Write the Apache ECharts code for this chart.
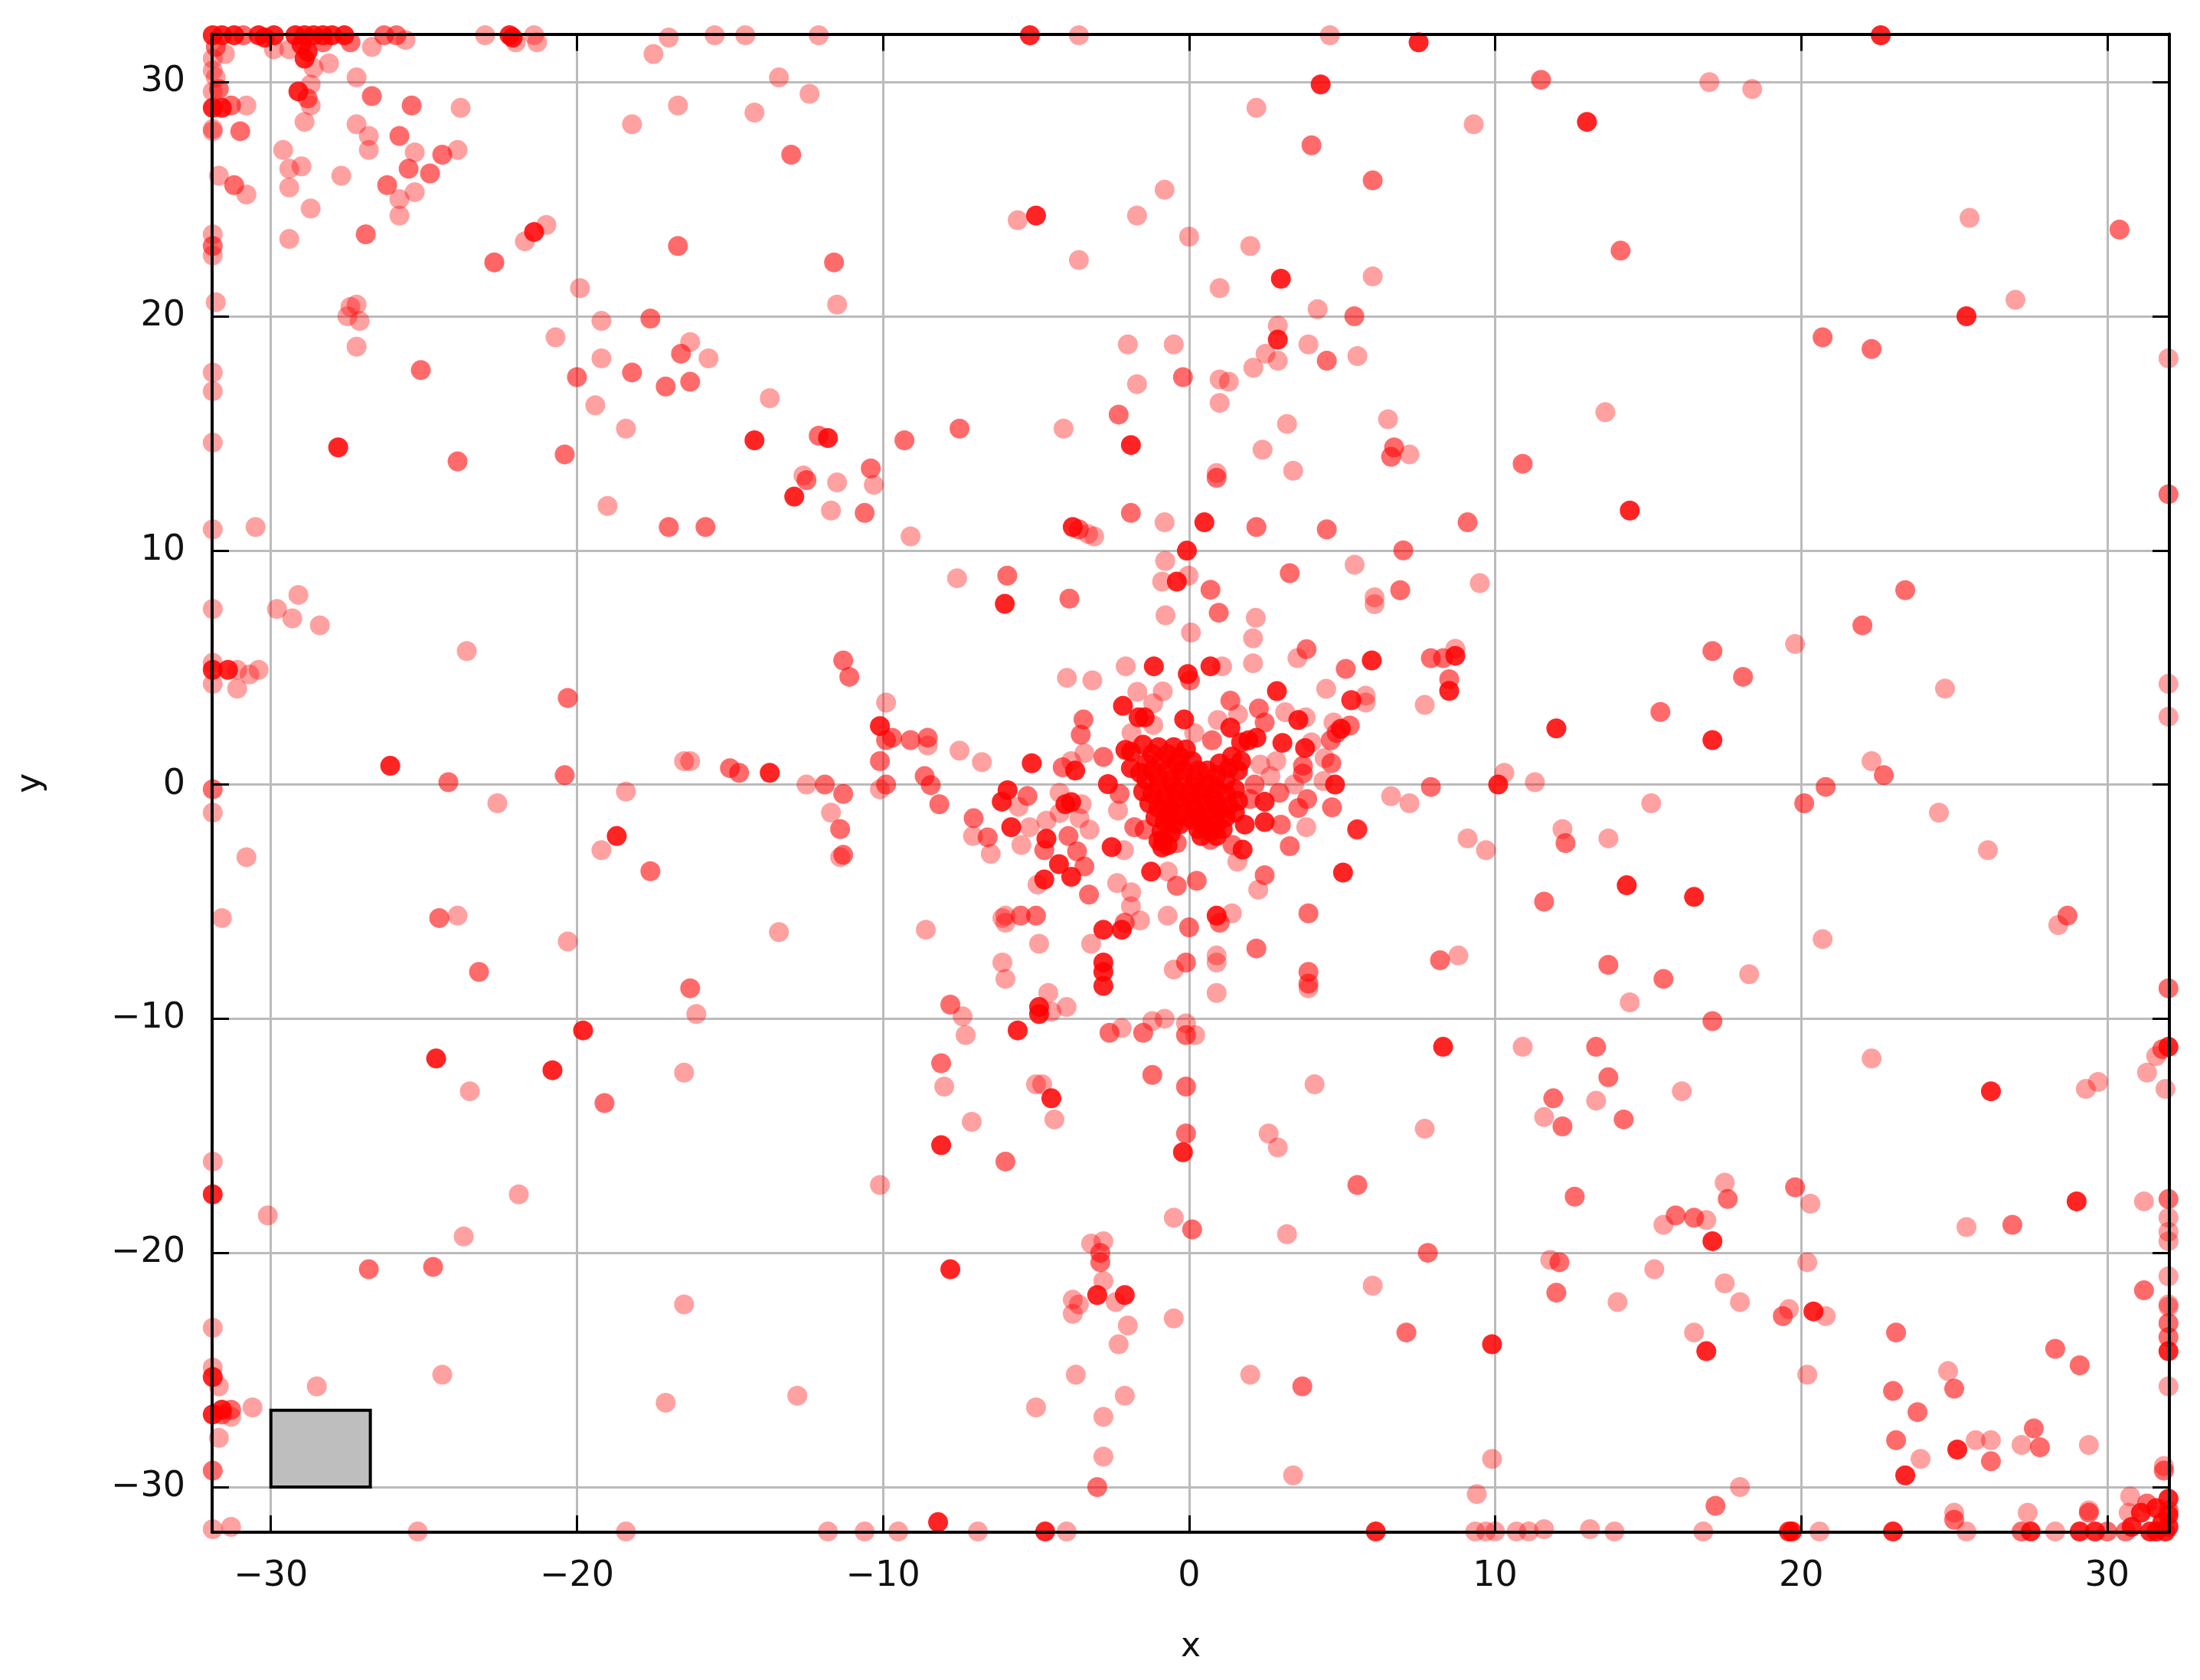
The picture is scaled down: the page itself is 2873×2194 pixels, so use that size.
<!DOCTYPE html>
<html>
<head>
<meta charset="utf-8">
<title>scatter</title>
<style>
  html, body { margin: 0; padding: 0; background: #fff; }
  #chart { width: 2873px; height: 2194px; }
</style>
<script src="https://cdn.jsdelivr.net/npm/echarts@6/dist/echarts.min.js"></script>
</head>
<body>
<div id="chart"></div>
<script>
var xTicks = [-30, -20, -10, 0, 10, 20, 30]
var yTicks = [-30, -20, -10, 0, 10, 20, 30]
var xRange = [-31.92, 32.03]
var yRange = [-31.93, 32.05]
var greyBox = [[-30, -30], [-26.75, -26.72]]

// single points, the palest red
var palePoints = [
  [-17.5,31.2],[-17,31.9],[-15.5,32],[-14.5,32],[-12.1,32],[-3.6,32],[4.6,32],[-16.7,29],[-14.2,28.7],[-18.2,28.2],[-13.4,30.2],[-12.4,29.5],
  [17,30],[18.4,29.7],[2.2,28.9],[9.3,28.2],[-0.8,25.4],[-5.6,24.1],[-1.7,24.3],[-3.6,22.4],[0,23.4],[25.5,24.2],[-22.7,22.3],[-19.9,21.2],[-11.5,20.5],
  [1,21.2],[2,23],[6,21.7],[4.2,20.3],[27,20.7],[32,18.2],[2.9,19.6],[2.9,18.1],[2.5,18.4],[3.9,18.8],[5.5,18.3],[2.1,17.8],[-2,18.8],[-0.5,18.8],[-1.7,17.1],[1,17.3],[1.3,17.2],
  [1,16.3],[3.2,15.4],[6.5,15.6],[13.6,15.9],[2.4,14.3],[7.2,14.1],[0.9,13.3],[3.4,13.4],[-21.4,32],[-23,32],
  [-30.8,29],[-31.9,27.9],[-31.9,31],[-31.5,31.2],[-31.8,30.2],[-31.9,29.6],[-31.7,26],[-30.8,25.2],[-31.9,23.5],[-31.9,22.6],[-29.4,23.3],[-29.6,27.1],[-29.4,26.3],[-29,26.4],[-29.4,25.5],[-27.7,26],[-28.7,24.6],
  [-28.9,28.3],[-27.2,28.2],[-26.8,27.7],[-26.8,27.1],[-25.3,27],[-23.9,27.1],[-25.3,25.3],[-25.8,25],[-25.8,24.3],[-23.8,28.9],[-27.2,30.2],[-28.1,30.8],[-28.6,30.6],[-28.7,29.9],[-28.7,29],
  [-29.9,31.4],[-29.4,31.4],[-26.7,31.5],[-25.6,31.8],[-22,31.7],[-21.3,31.7],[-21,23.9],[-21.7,23.2],[-22.7,22.3],[-27.2,20.5],[-31.8,20.6],
  [-31.9,17.6],[-31.9,16.8],[-31.9,14.6],[-31.9,10.9],[-31.9,7.5],[-27.4,20.4],[-27.5,20],[-27.1,19.8],[-27.2,18.7],[-20.7,19.1],[-19.2,19.8],[-16.3,18.9],[-19.2,18.2],[-15.7,18.2],[-19.4,16.2],[-18.4,15.2],[-13.7,16.5],[-4.1,15.2],
  [-12.6,13.2],[-11.5,12.9],[-10.3,12.8],[-11.7,11.7],[-9.1,10.6],[-19,11.9],[-30.5,11],[-3.3,10.7],[-3.1,10.6],[-0.8,11.2],
  [-7.58,8.81],[-0.78,9.55],[-0.02,8.92],[-0.88,8.67],[-0.77,7.23],[0.06,6.49],[2.18,7.12],[2.09,6.25],[5.41,9.39],[6.06,8],[6.06,7.7],[3.54,5.4],[2.09,5.18],[4.48,4.09],[5.77,3.8],[5.77,3.5],
  [9.5,8.6],[-29.1,8.1],[-29.8,7.5],[-29.3,7.1],[-28.4,6.8],[19.8,6],[-23.6,5.7],[8.7,5.8],
  [-3.99,4.56],[-3.16,4.45],[-2.07,5.05],[1.08,5.05],[-1.69,3.96],[-0.86,3.98],[-1.17,3.47],[3.14,3.09],[3.81,2.87],[0.94,2.76],[1.6,3],[4,1.8],[4.72,2.65],[4.43,1.13],[2.85,1],[2.66,0.36],[2.33,0.85],[4.39,0.15],[3.43,0],
  [3.83,-1.82],[1.58,-3.29],[2.26,-4.49],[-0.69,-3.72],[-1.89,-4.6],[-2.35,-4.21],[-4.95,-4.27],[-5.48,-2.58],[-6.48,-2.96],[-7.06,-2.2],[-5.21,-1.82],[-4.66,-1.54],[-4.23,-1.22],[-3.51,-0.84],[-3.58,-1.44],[-3.25,-1.93],[-5.57,-0.95],[-4.23,-0.35],
  [-8.54,1.67],[-7.5,1.45],[-6.77,0.96],[-3.85,1],[-3.42,1.34],[-2.32,-1.11],[-2.13,-2.8],[0.17,2.2],[-1.17,2.54],[-1.88,2.2],
  [-31.9,4.3],[-31.1,4.1],[-30.7,4.7],[-30.4,4.9],[-31.1,4.9],[-31.9,5.2],[-9.9,3.5],[24.7,4.1],[32,4.3],[32,2.9],[7.7,3.4],[-10.1,-0.2],[-16.5,1],[-16.3,1],[-12.5,0],[-11.7,-1.2],[-11.4,-3.1],[-18.4,-0.3],[-22.6,-0.8],[-19.2,-2.8],
  [-31.9,-1.2],[-30.8,-3.1],[-31.6,-5.7],[-13.4,-6.3],[-23.9,-5.6],[-20.3,-6.7],[-8.6,-6.2],
  [-6.1,-7.6],[-6,-8.3],[-7.4,-9.9],[-7.3,-10.7],[-4.6,-8.9],[-4.5,-9.7],[-4,-9.5],[-2.2,-10.4],[-1.2,-10.1],[-0.8,-10],[-0.1,-10.2],[0.2,-10.7],[-8,-12.9],[-7.1,-14.4],[-5,-12.8],[-4.8,-12.8],[-4.4,-14.3],
  [2.6,-14.9],[2.9,-15.5],[4.1,-12.8],[-0.5,-18.5],[3.2,-19.2],[-10.1,-17.1],[-30.1,-18.4],[-3.2,-19.6],[-2.8,-19.5],[-2.8,-21.2],[-23.7,-19.3],[-21.9,-17.5],[-23.5,-13.1],[-16.5,-12.3],[-16.1,-9.8],
  [-1.9,-5.2],[-1.6,-5.8],[-0.7,-5.6],[1.4,-5.5],[0.9,-7.3],[0.9,-7.6],[-0.5,-7.9],[0.9,-8.9],[3.9,-8.7],[-6.1,-5.7],[-6,-5.6],[-6,-5.9],[-4.9,-6.8],[-3.2,-6.8],
  [-31.9,-16.1],[-31.9,-23.2],[-31.9,-24.9],[-31.7,-25.7],[-16.5,-22.2],[-24.4,-25.2],[-28.5,-25.7],[-30.6,-26.6],[-31.3,-27],[-31.7,-27.9],[-31.9,-31.8],[-31.3,-31.7],[-25.2,-31.9],
  [-18.4,-31.9],[-11.8,-31.9],[-10.6,-31.9],[-9.5,-31.9],[-6.9,-31.9],[-4,-31.9],[-2.8,-28.7],[-2.8,-27],[-5,-26.6],[-12.8,-26.1],[-17.1,-26.4],[-2.1,-26.1],[-3.7,-25.2],[-2.3,-23.9],[-2,-23.1],[-0.5,-22.8],[-2.4,-22.1],[-3.8,-22],[-3.6,-22.2],[-3.8,-22.6],
  [2,-25.2],[6,-21.4],[7.7,-14.7],[10.9,-11.2],[8.8,-7.3],[9.1,-2.3],[9.7,-2.8],[6.6,-0.5],[7.2,-0.8],[10.3,0.5],[11.3,0.1],[12.2,-1.9],[13.7,-2.3],[15.1,-0.8],[14.4,-9.3],[18.3,-8.1],[13.3,-13.5],[11.6,-14.2],[16.1,-13.1],[15.5,-18.8],[16.9,-18.6],[17.5,-17],
  [20.3,-17.9],[15.2,-20.7],[11.8,-20.3],[14,-22.1],[17.5,-21.3],[18,-22.1],[16.5,-23.4],[20.2,-20.4],[20.2,-25.2],[19.6,-22.4],[20.8,-22.7],[20.7,-6.6],[22.3,-11.7],[25.4,-18.9],[31.2,-17.8],[29.7,-12.7],[29.3,-13],[31.3,-12.3],[31.6,-11.6],[31.9,-13],
  [26.1,-2.8],[24.5,-1.2],[22.3,1],[28.4,-6],[24.8,-25.05],[23.9,-28.8],[25.7,-28],[26.2,-28],[27.2,-28.2],[29.4,-28.2],[32,-25.7],[32,-22.3],[31.85,-29.1],[30.75,-30.4],[30.7,-31.1],[29.4,-31],[27.4,-31.1],[25,-31.1],[25.4,-31.9],[28.3,-31.9],
  [9.4,-30.3],[9.9,-28.8],[3.4,-29.5],[9.35,-31.9],[9.7,-31.9],[10,-31.9],[10.7,-31.9],[11.1,-31.9],[11.6,-31.8],[13.1,-31.8],[13.9,-31.9],[16.8,-31.9],[18,-30],[20.6,-31.9],[32,-18.5],[32,-19.1],[32,-19.5],[32,-21],[32,-22.2],[-31.9,28],[-31.9,30.5]
]

// darker ones, two marks stacked
var midPoints = [
  [11.5,30.1],[4,27.3],[6,25.8],[-13,26.9],[30.4,23.7],[14.1,22.8],[-16.7,23],[-11.6,22.3],[5.4,20],[20.7,19.1],[22.3,18.6],[4.5,18.1],[-0.2,17.4],[-2.3,15.8],[6.7,14.4],[6.6,14],[0.9,13.1],[10.9,13.7],
  [-31,27.9],[-31.3,29],[-31.2,25.6],[-31.9,23],[-25.8,27.7],[-24.4,26.9],[-25.5,26.3],[-24.8,26.1],[-26.2,25.6],[-26.9,23.5],[-26.7,29.4],[-25.4,29],[-28.8,29.3],[-25.1,17.7],[-23.9,13.8],[-17.6,19.9],[-16.6,18.4],[-20,17.4],[-18.2,17.6],[-17.1,17],[-16.3,17.2],
  [-12.1,14.9],[-9.3,14.7],[-7.5,15.2],[-20.4,14.1],[-12.5,13],[-10.4,13.5],[-10.6,11.6],[-17,11],[-15.8,11],[-3.6,10.9],[-1.9,11.6],[2.2,11],[4.5,10.9],[9.1,11.2],[32,12.4],[7,10],
  [-5.94,8.92],[-3.91,7.94],[0.7,8.32],[0.97,7.34],[3.29,9.03],[3.84,5.78],[5.12,4.94],[5.3,3.61],[6.9,8.3],[23.4,8.3],[22,6.8],[17.1,5.7],[8.3,5.4],[7.9,5.4],[18.1,4.6],[8.5,4.5],[-11.3,5.3],[-11.1,4.6],
  [0.03,4.45],[-3.45,2.78],[-3.54,2.13],[1.35,3.58],[2.28,3.25],[2.47,2.65],[5.25,2.52],[4.82,2.2],[4.63,1.89],[4.65,0.91],[3.72,0.8],[3.72,0.47],[2.95,-0.35],[2.14,0],[3.86,-0.62],[3.57,-1],[4.67,-0.97],[1.99,-0.62],[3,-1.71],[5.49,-1.93],[3.29,-2.63],[1.42,-2.58],[2.47,-3.87],[0.25,-4.11],[-0.4,-4.32],[-3.27,-4.7],[-3.42,-3.5],[-3.66,-2.85],[-3.94,-2.2],[-4.73,-2.8],[-6.58,-2.25],[-7.04,-1.44],[-5.28,-0.49],
  [-8.16,-0.84],[-8.44,-0.02],[-8.64,0.36],[-8.54,2.0],[-4.13,0.74],[-2.8,1.18],[-2.27,-0.4],[-1.79,-1.82],[-1.45,-1.93],[0.7,-2.36],[0.75,1.89],[-0.4,-2.5],
  [-20.3,3.7],[15.4,3.1],[5.3,3.6],[-9.9,1.9],[-9.1,1.9],[-9.7,2],[-10.1,1],[-9.9,0],[-15,0.7],[-14.7,0.5],[-11.9,0],[-11.3,-0.4],[-11.4,-1.9],[-11.3,-3],[-24.2,0.1],[-20.4,0.4],[-17.6,-3.7],[-31.9,-0.2],
  [-24.5,-5.7],[-23.2,-8],[-16.3,-8.7],[-19.1,-13.6],[-7.8,-9.4],[-2.6,-10.6],[-1.5,-10.6],[-0.1,-10.7],[-8.1,-11.9],[-6,-16.1],[-1.2,-12.4],[-0.1,-12.9],[-0.1,-14.9],[0.1,-19],[-2.9,-20],[-2.9,-20.4],[-26.8,-20.7],[-24.7,-20.6],
  [-2.1,-5.9],[0,-6.1],[1,-5.9],[3.9,-5.5],[2.2,-7],[-0.1,-7.6],[3.9,-8],[3.9,-8.5],[-5.5,-5.6],[-5,-5.6],
  [-31.6,-26.9],[-31.3,-26.7],[-31.9,-29.3],[-3,-30],[3.7,-25.7],[5.5,-17.1],[7.8,-20],[8.2,-7.5],[7.9,-0.1],[5.5,-1.9],[12.3,-2.5],[11.6,-5],[13.7,-7.7],[15.5,-8.3],[17.1,-10.1],[13.3,-11.2],[13.7,-12.5],[11.9,-13.4],[12.2,-14.6],[14.2,-14.3],[12.6,-17.6],[15.9,-18.4],[16.5,-18.5],[17.6,-17.7],[19.8,-17.2],[12.1,-20.4],[12,-21.7],[7.1,-23.4],[19.4,-22.7],
  [20.1,-0.8],[20.8,-0.1],[22.7,0.4],[28.7,-5.6],[26.9,-18.8],[32,-8.7],[31.8,-11.3],
  [23.1,-23.4],[25,-25.8],[23,-25.9],[23.8,-26.8],[23.1,-28],[26.2,-28.9],[28.3,-24.1],[29.1,-24.8],[27.6,-27.5],[27.8,-28.3],[32,-23.6],[32,-23],[31.85,-29.3],[31.3,-30.7],[29.4,-31.1],[25,-31.4],[27.2,-31.9],[30,-31.9],[30.6,-31.9],[17.2,-30.8],[32,-17.7],[31.2,-21.6],[32,-31],
  [-26.3,32],[-25.9,32],[-27.4,31.7],[-28.3,31.7],[-31.8,31.5],[-31.7,29.7],[-30.9,32]
]

// nearly solid, several marks stacked
var strongPoints = [
  [-31.9,32],[-31.6,32],[-31.2,32],[-30.4,32],[-30.2,31.9],[-29.9,32],[-29.2,32],[-28.9,32],[-28.6,32],[-28.3,32],[-28,32],[-27.6,32],[-29,31.6],[-28.8,31.3],[-28.9,31],[-22.2,32],[-22.1,31.9],[-5.2,32],[22.6,32],
  [7.5,31.7],[4.3,29.9],[13,28.3],[-5,24.3],[3,21.6],[25.4,20],[2.9,19],[-1.9,14.5],[-14.2,14.7],[-11.8,14.8],[-12.9,12.3],[-27.8,14.4],[-3.8,11],[0.5,11.2],[14.4,11.7],
  [-31.9,28.9],[-31.6,28.9],[-29.1,29.6],[-21.4,23.6],
  [-6.02,7.72],[-0.07,9.99],[-0.4,8.67],[5.97,5.3],[8.7,5.5],[8.5,4],[-1.15,5.05],[-0.04,4.72],[0.7,5.05],[-2.16,3.36],[-1.65,2.87],[-1.45,2.87],[-0.16,2.78],[2.87,3.99],[3.57,2.76],[1.35,2.43],[1.94,1.89],[1.7,1.8],[2.2,2],[3.05,1.78],[3.79,1.56],[4.96,2.38],[4.77,0],
  [2.47,-0.73],[2.47,-1.6],[1.82,-1.71],[1.75,-2.78],[5.03,-3.76],[-1.24,-3.72],[-3.85,-3.94],[-4.25,-3.4],[-4.73,-4.05],[-4.66,-2.31],[-5.81,-1.82],[-4.04,-0.84],[-3.85,-0.75],[-5.93,-0.24],[-6.12,-0.73],[-5.14,0.91],[-3.72,0.6],[-2.08,1.48],[-2.65,0.02],[-2.53,-2.67],[-0.88,-2.69],[-0.85,-2.4],
  [-1.9,1.4],[-1.5,1.7],[-1,1.6],[-0.5,1.6],[-0.1,1.5],[0.1,1],[-1.9,0.7],[-1.4,0.9],[-0.9,1],[-0.4,0.9],[-1.4,0.2],[-1,0.3],[-0.6,0.2],[-0.2,0.3],[0.2,0.2],[0.6,0.6],[1,0.9],[1.4,1.2],[1.6,0.6],[1.2,0.2],[0.7,0],
  [-1.2,-0.4],[-0.8,-0.5],[-0.4,-0.3],[0,-0.4],[0.4,-0.5],[0.8,-0.6],[1.2,-0.4],[1.5,-0.2],[-1,-1],[-0.6,-1.1],[-0.2,-0.9],[0.2,-1.1],[0.6,-1.2],[1,-1.1],[1.3,-0.9],[-0.8,-1.6],[-0.5,-1.7],[0.1,-1.5],[0.5,-1.7],[0.9,-1.7],[1.2,-1.4],[0.7,-2],[-0.9,-2],
  [-1.2,1.3],[-0.7,1.3],[-0.3,1.2],[-1.6,0.5],[-1.2,0.6],[-0.7,0.6],[-0.2,0.6],[0.3,0.6],[0.9,0.4],[1.3,0.7],[1.7,1],[-1.5,-0.3],[-1,-0.1],[-0.5,-0.1],[0.1,-0.1],[0.5,-0.1],[0.9,-0.2],[1.6,-0.7],[-1.3,-0.8],[-0.8,-0.8],[-0.4,-0.6],[0.1,-0.7],[0.5,-0.8],[0.9,-0.9],[-1.1,-1.4],[-0.7,-1.3],[-0.3,-1.3],[0.3,-1.4],[0.8,-1.4],[1.5,-1.2],[-0.6,-2.1],[0.4,-2.2],[0.9,-2.2],[1.1,-1.9],[0.3,-1.9],[-0.3,-1.7],[-1,-2.4],[-0.7,-2.6],
  [12,2.4],[17.1,1.9],[-10.1,2.5],[-13.7,0.5],[-26.1,0.8],[-18.7,-2.2],[-31.9,4.9],[-31.4,4.9],
  [-2.2,-6.2],[-2.8,-6.2],[0.9,-5.6],[-2.8,-7.6],[-2.8,-8],[-2.8,-8.6],[-4.9,-9.5],[-4.9,-9.8],[-5.6,-10.5],[-8.1,-15.4],[-4.5,-13.4],[-0.2,-15.7],[-7.8,-20.7],[-24.6,-11.7],[-20.8,-12.2],[-19.8,-10.5],[-31.9,-17.5],[-3,-21.8],[-2.1,-21.8],
  [-31.9,-25.3],[-31.9,-26.9],[-31.6,-26.7],[-8.2,-31.5],[-4.7,-31.9],[8.3,-11.2],[10.1,0],[14.3,-4.3],[16.5,-4.8],[17.1,-19.5],[16.9,-24.2],[9.9,-23.9],[20.4,-22.5],[26.2,-13.1],[29,-17.8],[32,-11.2],
  [23.4,-29.5],[25.1,-28.4],[32,-24.2],[31.1,-31.1],[30.8,-31.7],[32,-30.5],[32,-31.2],[32,-31.7],[31.9,-31.9],[31.6,-31.9],[31.4,-31.9],[31.8,-31.5],[31.6,-30.9],[23,-31.9],[27.5,-31.9],[29.1,-31.9],[29.6,-31.9],[6.1,-31.9],[19.6,-31.9],[19.7,-31.9]
]

var chart = echarts.init(document.getElementById('chart'))

function fmt (v) {
  return String(v).replace('-', '\u2212')
}

// one axis for the grey grid under the marks, two more for the black frame above them
function makeAxes (range, ticks, sides, name, nameGap, nameRotate) {
  var base = {
    type: 'value',
    min: range[0],
    max: range[1],
    gridIndex: 0,
    axisLine: {show: false},
    axisTick: {show: false, customValues: ticks},
    axisLabel: {show: false, customValues: ticks},
    splitLine: {show: false}
  }
  var grey = Object.assign({}, base, {
    position: sides[0],
    z: 0,
    splitLine: {show: true, lineStyle: {color: '#bbbbbb', width: 3}}
  })
  var frame = sides.map(function (side, i) {
    return Object.assign({}, base, {
      position: side,
      z: 5,
      name: i === 0 ? name : '',
      nameLocation: 'middle',
      nameGap: nameGap,
      nameRotate: nameRotate,
      nameTextStyle: {fontFamily: 'DejaVu Sans', fontSize: 44, color: '#111'},
      axisLine: {show: true, onZero: false, lineStyle: {color: '#000', width: 4}},
      axisTick: {show: true, inside: true, length: 22, customValues: ticks, lineStyle: {color: '#000', width: 3}},
      axisLabel: {
        show: i === 0,
        margin: 35,
        customValues: ticks,
        fontFamily: 'DejaVu Sans',
        fontSize: 46,
        color: '#111',
        showMinLabel: true,
        showMaxLabel: true,
        formatter: fmt
      }
    })
  })
  return [grey].concat(frame)
}

function makeSeries (points, opacity) {
  return {
    type: 'scatter',
    xAxisIndex: 0,
    yAxisIndex: 0,
    data: points,
    symbol: 'circle',
    symbolSize: 26,
    clip: false,
    z: 3,
    itemStyle: {color: '#ff0000', opacity: opacity}
  }
}

var boxSeries = {
  type: 'scatter',
  xAxisIndex: 0,
  yAxisIndex: 0,
  data: [],
  z: 2,
  markArea: {
    silent: true,
    itemStyle: {color: '#bebebe', opacity: 1, borderColor: '#000', borderWidth: 4},
    data: [[{coord: greyBox[0]}, {coord: greyBox[1]}]]
  }
}

chart.setOption({
  animation: false,
  backgroundColor: '#ffffff',
  grid: {left: 277, top: 44.5, width: 2556, height: 1956.5, containLabel: false},
  xAxis: makeAxes(xRange, xTicks, ['bottom', 'top'], 'x', 129, 0),
  yAxis: makeAxes(yRange, yTicks, ['left', 'right'], 'y', 214, 90),
  series: [
    boxSeries,
    makeSeries(palePoints, 0.37),
    makeSeries(midPoints, 0.58),
    makeSeries(strongPoints, 0.86)
  ]
})
</script>
</body>
</html>
